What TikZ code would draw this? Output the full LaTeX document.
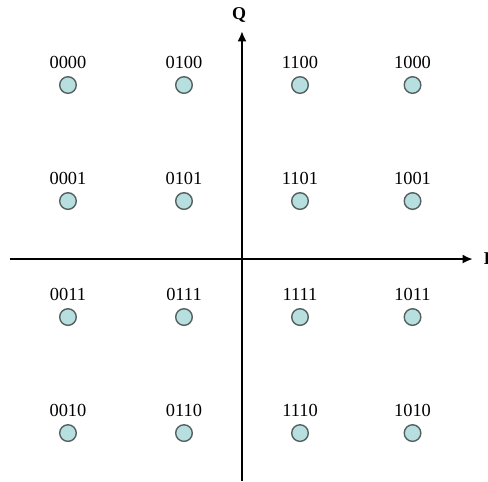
\documentclass[tikz,border=0pt]{standalone}
\usepackage{fontspec}
\setmainfont{Liberation Serif}
\usetikzlibrary{arrows.meta,positioning}
\definecolor{ptfill}{HTML}{B7DFE0}
\definecolor{ptedge}{HTML}{55605F}
\tikzset{
  axis/.style={-{Latex[length=1.8mm,width=1.6mm]},line width=1.1pt},
  pt/.style={circle,draw=ptedge,fill=ptfill,line width=0.7pt,minimum size=8.3pt,inner sep=0pt},
  bits/.style={inner sep=0pt,font=\fontsize{9.2}{11}\selectfont},
  axlabel/.style={font=\bfseries\fontsize{9}{11}\selectfont,inner sep=0pt},
}
\begin{document}
\begin{tikzpicture}[x=29pt,y=29pt]
    \useasboundingbox (-4.172,-3.828) rectangle (4.241,4.466);
    % axes
    \coordinate (il) at (-4.0,0);
    \coordinate (ir) at (3.98,0);
    \coordinate (qb) at (0,-3.83);
    \coordinate (qt) at (0,3.93);
    \draw[axis] (il) -- (ir);
    \draw[axis] (qb) -- (qt);
    \node[axlabel] (qlab) at (-0.05,4.21) {Q};
    \node[axlabel] (ilab) at (4.225,0) {I};
    % constellation points
    \foreach \x/\y/\b in {-3/3/0000,-1/3/0100,1/3/1100,2.94/3/1000,
                          -3/1/0001,-1/1/0101,1/1/1101,2.94/1/1001,
                          -3/-1/0011,-1/-1/0111,1/-1/1111,2.94/-1/1011,
                          -3/-3/0010,-1/-3/0110,1/-3/1110,2.94/-3/1010} {
      \node[pt] (p\b) at (\x,\y) {};
      \node[bits,above=3.5pt of p\b] (l\b) {\b};
    }
  \end{tikzpicture}
\end{document}
